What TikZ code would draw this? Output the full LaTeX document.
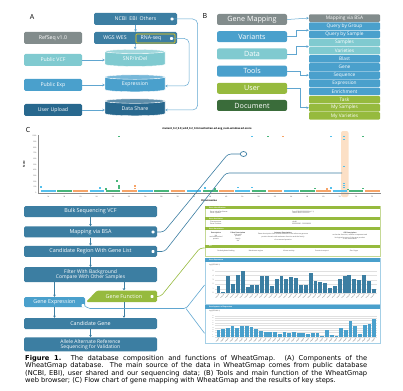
\documentclass[tikz,border=0pt]{standalone}
\usepackage{fontspec}
\setmainfont{Open Sans}
\newfontfamily\capfont{DejaVu Sans}
\usetikzlibrary{arrows.meta,positioning,calc,shapes.geometric}
\newcommand\setfs[1]{\fontsize{#1}{#1}\selectfont}
\definecolor{mapblue}{RGB}{60,126,162}
\definecolor{midblue}{RGB}{74,160,204}
\definecolor{lightteal}{RGB}{128,202,208}
\definecolor{darkblue}{RGB}{40,104,142}
\definecolor{mapgray}{RGB}{130,140,140}
\definecolor{mapgreen}{RGB}{150,186,62}
\definecolor{darkgreen}{RGB}{58,108,58}
\definecolor{linkblue}{RGB}{96,166,208}
\definecolor{hiorange}{RGB}{252,224,198}
\definecolor{chrblue}{RGB}{84,192,236}
\definecolor{chrgreen}{RGB}{72,182,122}
\definecolor{chrorange}{RGB}{246,164,104}
\tikzset{
    srcbox/.style={rounded corners=1.5pt, text=white, font=\setfs{5.2}, minimum width=58pt, minimum height=12pt, inner sep=0pt},
    dbcyl/.style={cylinder, shape border rotate=90, aspect=0.17, minimum width=60pt, minimum height=17pt, cylinder uses custom fill, draw=white, line width=0.4pt, text=white, font=\setfs{5.2}, inner sep=0pt},
    menubox/.style={rounded corners=2pt, text=white, font=\setfs{7.2}, minimum width=70pt, minimum height=11pt, inner sep=0pt},
    itembox/.style={rounded corners=1pt, text=white, font=\setfs{4.8}, minimum width=71pt, minimum height=7.6pt, inner sep=0pt},
    flowbox/.style={rounded corners=1.5pt, fill=mapblue, text=white, font=\setfs{5.4}, align=center, minimum width=133pt, minimum height=11pt, inner sep=0pt},
    dotmark/.style={fill=white, rounded corners=0.6pt, minimum width=3pt, minimum height=2.6pt, inner sep=0pt},
    alink/.style={draw=linkblue, line width=0.5pt, -{Stealth[length=2.4pt,width=2.6pt]}},
    flowarrow/.style={draw=mapblue, line width=0.5pt, -{Stealth[length=2.2pt,width=2.6pt]}},
    zoomline/.style={draw=mapblue, line width=0.6pt, rounded corners=3pt},
    tinytext/.style={font=\setfs{1.7}, inner sep=0pt, text=black!75},
    panellabel/.style={font=\setfs{7}, inner sep=0pt}
}
\begin{document}
\begin{tikzpicture}[x=1pt, y=-1pt]
    \useasboundingbox (0,0) rectangle (403,390);
    % (A) database components
    \node[panellabel] (labA) at (32,17) {A};
    \node[srcbox, fill=mapblue, minimum width=83pt] (ncbi) at (135.5,19) {NCBI\enspace EBI\enspace Others};
    \node[dotmark] (ncbidot) at (172,19) {};
    \node[srcbox, fill=mapblue, minimum width=83pt] (wgs) at (135.5,38) {};
    \node[text=white, font=\setfs{5.2}, inner sep=0pt] (wgslbl) at (115,38) {WGS WES};
    \node[draw=yellow!70!orange, line width=0.6pt, rounded corners=0.8pt, minimum width=39pt, minimum height=9pt, inner sep=0pt] (rna) at (155.5,38.5) {};
    \node[text=white, font=\setfs{5.2}, inner sep=0pt] (rnalbl) at (151,38.5) {RNA-seq};
    \node[dotmark] (rnadot) at (171.5,38.5) {};
    \node[srcbox, fill=mapgray] (refseq) at (53,38) {RefSeq v1.0};
    \node[srcbox, fill=lightteal] (pubvcf) at (53,60) {Public VCF};
    \node[srcbox, fill=midblue] (pubexp) at (53,85) {Public Exp};
    \node[srcbox, fill=darkblue] (upload) at (53,110) {User Upload};
    \node[dbcyl, cylinder body fill=lightteal, cylinder end fill=lightteal!75!white] (snp) at (135,59) {SNP/InDel};
    \node[dbcyl, cylinder body fill=midblue, cylinder end fill=midblue!75!white] (expr) at (135,84.5) {Expression};
    \node[dbcyl, cylinder body fill=darkblue, cylinder end fill=darkblue!75!white] (share) at (135,108.5) {Data Share};
    \draw[alink] (ncbi.south) -- (wgs.north);
    \draw[alink] (wgs.south) -- (snp.north);
    \draw[alink] (pubvcf.east) -- (snp.west |- pubvcf.east);
    \draw[alink] (pubexp.east) -- (expr.west |- pubexp.east);
    \draw[alink] (upload.east) -- (share.west |- upload.east);
    \draw[alink, rounded corners=5pt] (ncbidot.east) -- ++(24,0) |- ([yshift=-1.5pt]share.east);
    \draw[alink, rounded corners=5pt] (rnadot.east) -- ++(16,0) |- ([yshift=-1.5pt]expr.east);

    % (B) tools and functions
    \node[panellabel] (labB) at (205,16) {B};
    \node[menubox, fill=mapgray] (gmap) at (252,19.5) {Gene Mapping};
    \node[menubox, fill=midblue, below=5.8pt of gmap] (variants) {Variants};
    \node[menubox, fill=lightteal, below=5.8pt of variants] (data) {Data};
    \node[menubox, fill=midblue, below=5.8pt of data] (tools) {Tools};
    \node[menubox, fill=mapgreen, below=5.8pt of tools] (user) {User};
    \node[menubox, fill=darkgreen, below=5.8pt of user] (document) {Document};
    \foreach \txt/\col [count=\i] in {Mapping via BSA/mapgray, Query by Group/midblue, Query by Sample/midblue,
        Samples/lightteal, Varieties/lightteal, Blast/midblue, Gene/midblue, Sequence/midblue,
        Expression/midblue, Enrichment/midblue, Task/mapgreen, My Samples/mapgreen, My Varieties/mapgreen}
        \node[itembox, fill=\col] (item\i) at (344.5,{18.1+8.15*(\i-1)}) {\txt};
    \draw[alink] (gmap.east) -- (item1.west);
    \draw[alink] (variants.east) -- ++(9,0) |- (item2.south west);
    \draw[alink] (data.east) -- ++(9,0) |- (item4.south west);
    \draw[alink] (tools.east) -- ++(13,0) |- (item8.west);
    \draw[alink] (user.east) -- ++(13,0) |- (item12.west);

    % (C) gene mapping flow
    \node[panellabel] (labC) at (28,130) {C};
    \node[font=\setfs{2.6}\bfseries, inner sep=0pt] (plottitle) at (207,128.5) {mutant\_0.2\_0.8\_wild\_0.2\_0.8.manhattan.ed.avg\_num.window.ed.score};
    \fill[hiorange, rounded corners=2pt] (341,131) rectangle (348.5,197);
    \draw[black!45, line width=0.3pt] (38,135) -- (38,193) -- (381,193);
    \foreach \v in {0,100,...,1000}
        \node[tinytext, anchor=east] (ytick\v) at (36.5,{193-0.057*\v}) {\v};
    \node[font=\setfs{2.6}\bfseries, rotate=90, inner sep=0pt] (scorelbl) at (24,164) {Score};
    \foreach \chr [count=\i from 0] in {1A,1B,1D,2A,2B,2D,3A,3B,3D,4A,4B,4D,5A,5B,5D,6A,6B,6D,7A,7B,7D} {
        \pgfmathtruncatemacro\k{mod(\i,3)}
        \ifcase\k \def\cc{chrblue}\or \def\cc{chrgreen}\else \def\cc{chrorange}\fi
        \draw[\cc, line width=2.4pt] ({41+16.2*\i},190.8) -- ({39.4+16.2*(\i+1)},190.8);
        \node[tinytext] (xtick\i) at ({48.1+16.2*\i},197) {\chr};
    }
    \foreach \px/\py/\pc in {41/187/chrblue, 100/188/chrblue, 106/189/chrgreen, 117/181/chrgreen, 119/136.5/chrgreen,
        119/186/chrgreen, 119/188/chrgreen, 135/186/chrorange, 135/188.5/chrorange, 205/188/chrblue, 215/189/chrgreen,
        238/187.5/chrblue, 252/187.5/chrblue, 252/136.5/chrblue, 268/136.5/chrgreen, 283/136.5/chrorange,
        315/188.5/chrgreen, 327/189/chrorange, 331/188/chrblue, 331/136.5/chrblue, 344/136.5/chrblue, 344/139.5/chrblue,
        344/166.5/chrblue, 344/183.5/chrblue, 344/185.5/chrblue, 344/187.5/chrblue, 348/189.5/chrgreen,
        363/188.5/chrgreen, 363/136.5/chrgreen}
        \fill[\pc] (\px-0.9,\py-0.9) rectangle ++(1.8,1.8);
    \node[font=\setfs{2.4}\bfseries, inner sep=0pt] (chrlbl) at (209,201) {Chromosome};

    \node[flowbox] (bulk) at (90.5,211.5) {Bulk Sequencing VCF};
    \node[flowbox, below=9pt of bulk] (mapping) {Mapping via BSA};
    \node[flowbox, below=8pt of mapping] (region) {Candidate Region With Gene List};
    \node[flowbox, below=10pt of region, minimum height=15pt, font=\setfs{5}] (filter) {Filter With Background\\Compare With Other Samples};
    \node[flowbox, fill=midblue, minimum width=61pt, minimum height=10pt] (gexp) at (54.5,302) {Gene Expression};
    \fill[mapgreen, rounded corners=1.5pt] (86,302) -- (97,290.5) -- (157,290.5) -- (157,302) -- cycle;
    \node[text=white, font=\setfs{5.4}, minimum width=58pt, minimum height=11.5pt, inner sep=0pt] (gfun) at (124,296.3) {Gene Function};
    \node[flowbox] (cand) at (90.5,323.5) {Candidate Gene};
    \node[flowbox, below=8pt of cand, minimum height=14pt, font=\setfs{5}] (allele) {Allele Alternate Reference\\Sequencing for Validation};
    \node[dotmark] (mapdot) at (153,232) {};
    \node[dotmark] (regdot) at (153,251.5) {};
    \node[dotmark] (gfundot) at (152,296.5) {};
    \node[dotmark] (gexpdot) at (83,305.5) {};
    \draw[flowarrow] (bulk) -- (mapping);
    \draw[flowarrow] (mapping) -- (region);
    \draw[flowarrow] (region) -- (filter);
    \draw[flowarrow] (gexp.north |- filter.south) -- (gexp.north);
    \draw[flowarrow] (gfun.north |- filter.south) -- (gfun.north);
    \draw[flowarrow] (gexp.south) -- (gexp.south |- cand.north);
    \draw[flowarrow] (gfun.south) -- (gfun.south |- cand.north);
    \draw[flowarrow] (cand) -- (allele);

    % links to the plot
    \node[draw=mapblue, line width=0.7pt, ellipse, minimum width=6.5pt, minimum height=5pt, inner sep=0pt] (lens) at (243.5,154) {};
    \coordinate (bendA) at (228,154);
    \coordinate (bendB) at (226,173);
    \coordinate (peak) at (342,173);
    \draw[zoomline] (mapdot.east) -- ++(9,0) -- (bendA) -- (lens.west);
    \draw[zoomline] (regdot.east) -- ++(10,0) -- (bendB) -- (peak);

    % result panels
    \node[draw=mapgreen!55, line width=0.8pt, minimum width=175pt, minimum height=50pt, inner sep=0pt] (table) at (292.5,231) {};
    \foreach \hy/\htxt in {206/Gene Identification, 216.8/Gene Attributes, 227/Gene Annotation, 244.6/GO/KEGG/Pfam Terms} {
        \fill[mapgreen] (205,\hy) rectangle (380,\hy+3.3);
        \node[tinytext, text=white, anchor=west, font=\setfs{1.7}\bfseries] (hdr\hy) at (209,\hy+1.7) {\htxt};
    }
    \node[tinytext, anchor=west, align=left] (t11) at (210,212.5) {Gene Identifier/Name:\\Gene Symbol:};
    \node[tinytext, anchor=west, align=left] (t12) at (292,212.5) {TraesCS4A02G000000 (v1.1)\\TraesCS4A01G000000};
    \node[tinytext, anchor=west, align=left] (t21) at (210,223) {Chromosome:\\Gene Position:};
    \node[tinytext, anchor=west, align=left] (t22) at (292,223) {chr4A\\000000000 - 000000000};
    \foreach \cx/\ctxt in {216/Description, 238/Pfam Description, 283/Interpro Description, 350/GO Description}
        \node[tinytext, font=\setfs{1.7}\bfseries] (col\cx) at (\cx,233) {\ctxt};
    \node[tinytext, align=center] (d1) at (216,237.5) {NA\\uncharacterized\\protein};
    \node[tinytext, align=center] (d2) at (238,237.5) {Unknown\\protein\\family\\NA};
    \node[tinytext, align=center] (d3) at (283,237) {Gene description from the annotation of the reference genome\\protein domain with unknown function and the family\\of conserved proteins};
    \node[tinytext, align=center] (d4) at (350,237) {molecular function, cellular component and\\biological process of the gene product\\in the annotation};
    \foreach \gx/\gtxt in {226/Carbohydrate binding, 256/Membrane region, 289/Kinase activity, 322/Protein transport, 354/Zinc finger}
        \node[tinytext] (go\gx) at (\gx,251.5) {\gtxt};

    \node[draw=midblue!50, line width=0.9pt, minimum width=175pt, minimum height=46pt, inner sep=0pt] (chartA) at (292.5,281) {};
    \fill[midblue] (205,258) rectangle (380,261.5);
    \node[tinytext, text=white, anchor=west, font=\setfs{1.7}\bfseries] (ttlA) at (209,259.8) {Gene Expression};
    \node[tinytext, anchor=west] (ylabA) at (209,265) {log2(FPKM+1)};
    \foreach \k in {0,...,5} {
        \draw[black!12, line width=0.2pt] (215,{293-4.4*\k}) -- (377,{293-4.4*\k});
        \node[tinytext] (ytA\k) at (213,{293-4.4*\k}) {\k};
    }
    \foreach \h [count=\i] in {6.7,1,17,9.3,18.3,21.7,5.7,7.7,8.3,17,16.7,7,14.3,17,13.7,16.3,15.3,8.3,8.3,20.3,
        11.7,11.3,9.7,5.3,6.7,14.3,17,18.3,13.7,13.3,18,12.3,4.3} {
        \fill[mapblue] ({216.5+4.85*(\i-1)},293) rectangle ++(3.9,-\h);
        \node[tinytext, rotate=45, anchor=north east] (xlA\i) at ({218.5+4.85*(\i-1)},294) {tissue};
    }

    \node[draw=midblue!50, line width=0.9pt, minimum width=175pt, minimum height=38.5pt, inner sep=0pt] (chartB) at (292.5,324.3) {};
    \fill[midblue] (205,305) rectangle (380,308.5);
    \node[tinytext, text=white, anchor=west, font=\setfs{1.7}\bfseries] (ttlB) at (209,306.8) {Development of Expression};
    \node[tinytext, anchor=west] (ylabB) at (209,311.5) {log2(FPKM+1)};
    \foreach \k in {0,...,9} {
        \draw[black!12, line width=0.2pt] (215,{337-2.35*\k}) -- (377,{337-2.35*\k});
        \node[tinytext, font=\setfs{1.4}] (ytB\k) at (213,{337-2.35*\k}) {\k};
    }
    \foreach \h [count=\i] in {6.7,8.3,9,10.7,9,10.7,11,9.7,7.7,6.3,5,4.7,4.7,3.3,4.7,4,4.7,3.7,3.7,3.3,3.7,3.7,
        1,7,2,1,9,6.7,15.7,11,3,12,13,17.7} {
        \fill[midblue] ({216.5+4.72*(\i-1)},337) rectangle ++(3.8,-\h);
        \node[tinytext, rotate=45, anchor=north east] (xlB\i) at ({218.5+4.72*(\i-1)},338) {stage};
    }

    \coordinate (fork) at (186,308.5);
    \draw[draw=linkblue, line width=0.6pt, rounded corners=2pt] (gexpdot.east) -- (88,308.5) -- (fork) -- ([yshift=-4pt]chartA.west);
    \draw[draw=linkblue, line width=0.6pt] (fork) -- ([yshift=-9pt]chartB.west);
    \draw[draw=mapgreen, line width=0.6pt, rounded corners=3pt] (gfundot.east) -- ++(7,0) -- (200,248) -- ([yshift=-17pt]table.west);

    % caption
    \node[anchor=north west, text width=342pt, align=justify, inner sep=0pt, font=\capfont\fontsize{6.7}{6.4}\selectfont] (caption) at (25,355)
        {\textbf{Figure 1.} The database composition and functions of WheatGmap. (A) Components of the\linebreak
        WheatGmap database. The main source of the data in WheatGmap comes from public database\linebreak
        (NCBI, EBI), user shared and our sequencing data; (B) Tools and main function of the WheatGmap\linebreak
        web browser; (C) Flow chart of gene mapping with WheatGmap and the results of key steps.};
\end{tikzpicture}
\end{document}
